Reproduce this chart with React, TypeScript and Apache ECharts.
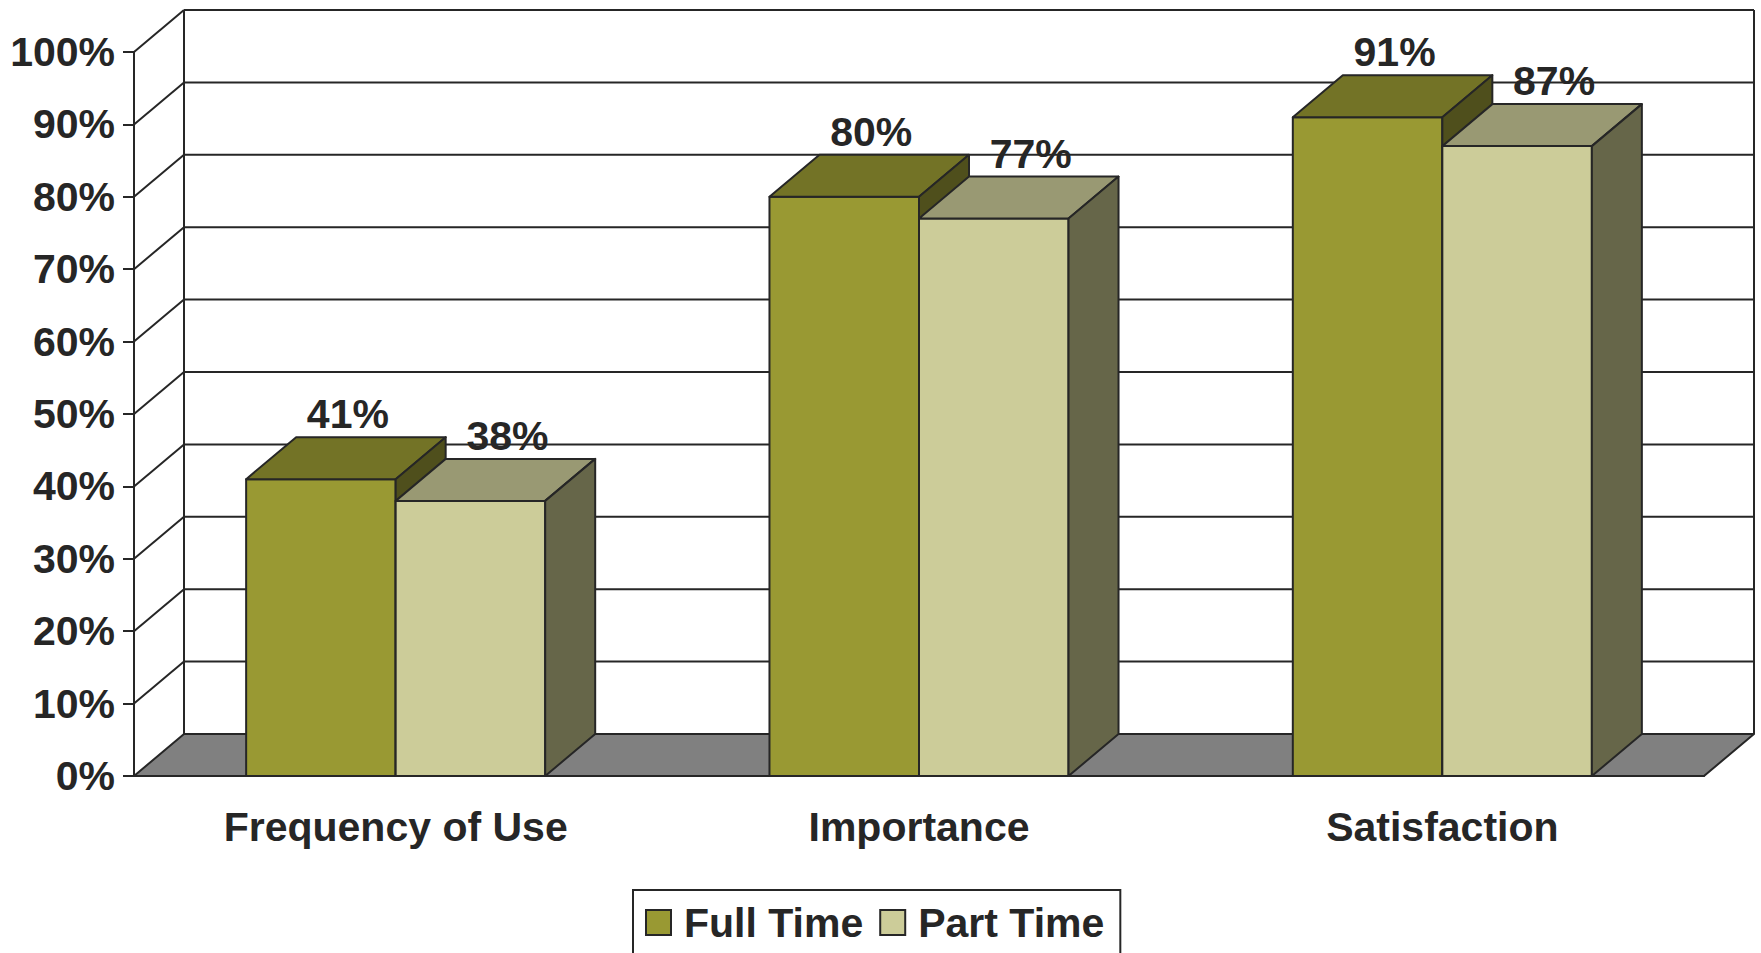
import { useEffect, useRef } from 'react';
import * as echarts from 'echarts';

// Survey results by employment type
const categories = ['Frequency of Use', 'Importance', 'Satisfaction'];
const fullTime = [41, 80, 91];
const partTime = [38, 77, 87];
const yTicks = [0, 10, 20, 30, 40, 50, 60, 70, 80, 90, 100];

// Depth offset of the pseudo-3D projection (pixels)
const DX = 50;
const DY = -42;
const LINE = '#262626';
const FONT = "'Liberation Sans', Arial, sans-serif";

const FULL_COLORS = { front: '#999933', top: '#737326', side: '#4f4f1c' };
const PART_COLORS = { front: '#cccc99', top: '#999973', side: '#666649' };

const edge = { stroke: LINE, lineWidth: 2, lineJoin: 'round' as const };

function barRenderer(side: 0 | 1, colors: { front: string; top: string; side: string }, labelShift: number) {
  return (params: any, api: any) => {
    const cat = api.value(0);
    const v = api.value(1);
    const top = api.coord([cat, v]);
    const base = api.coord([cat, 0]);
    const w = (api.size([1, 0])[0] * 2) / 7;
    const x1 = side === 0 ? top[0] - w : top[0];
    const x2 = x1 + w;
    const yT = top[1];
    const yB = base[1];
    return {
      type: 'group',
      children: [
        { type: 'rect', shape: { x: x1, y: yT, width: w, height: yB - yT }, style: { fill: colors.front, ...edge } },
        {
          type: 'polygon',
          shape: { points: [[x1, yT], [x2, yT], [x2 + DX, yT + DY], [x1 + DX, yT + DY]] },
          style: { fill: colors.top, ...edge },
        },
        {
          type: 'polygon',
          shape: { points: [[x2, yT], [x2 + DX, yT + DY], [x2 + DX, yB + DY], [x2, yB]] },
          style: { fill: colors.side, ...edge },
        },
        {
          type: 'text',
          x: (x1 + x2) / 2 + labelShift,
          y: yT - 65,
          z2: 10,
          style: {
            text: v + '%',
            fill: LINE,
            fontSize: 41,
            fontWeight: 'bold',
            fontFamily: FONT,
            align: 'center',
            verticalAlign: 'middle',
          },
        },
      ],
    };
  };
}

function wallRenderer(params: any, api: any) {
  const cs = params.coordSys;
  const x0 = cs.x;
  const xr = cs.x + cs.width;
  const v = api.value(1);
  const y = api.coord([0, v])[1];
  const children: any[] = [];
  if (v === 0) {
    children.push({
      type: 'polygon',
      shape: { points: [[x0, y], [xr, y], [xr + DX, y + DY], [x0 + DX, y + DY]] },
      style: { fill: '#808080', ...edge },
    });
  } else {
    children.push({ type: 'line', shape: { x1: x0, y1: y, x2: x0 + DX, y2: y + DY }, style: edge });
    children.push({ type: 'line', shape: { x1: x0 + DX, y1: y + DY, x2: xr + DX, y2: y + DY }, style: edge });
  }
  if (params.dataIndex === yTicks.length - 1) {
    const y0 = api.coord([0, yTicks[0]])[1];
    const y1 = api.coord([0, yTicks[yTicks.length - 1]])[1];
    children.push({ type: 'line', shape: { x1: x0 + DX, y1: y0 + DY, x2: x0 + DX, y2: y1 + DY }, style: edge });
    children.push({ type: 'line', shape: { x1: xr + DX, y1: y0 + DY, x2: xr + DX, y2: y1 + DY }, style: edge });
  }
  return { type: 'group', children };
}

export default function App() {
  const ref = useRef<HTMLDivElement>(null);

  useEffect(() => {
    document.body.style.margin = '0';
    const chart = echarts.init(ref.current!, null, { renderer: 'svg' });
    const textStyle = { color: LINE, fontSize: 41, fontWeight: 'bold' as const, fontFamily: FONT };
    chart.setOption({
      animation: false,
      backgroundColor: '#ffffff',
      grid: { left: 134, right: 57, top: 52, bottom: 177 },
      xAxis: {
        type: 'category',
        data: categories,
        axisLine: { lineStyle: { color: LINE, width: 2 } },
        axisTick: { length: 12, lineStyle: { color: LINE, width: 2 } },
        axisLabel: { ...textStyle, margin: 30 },
        splitLine: { show: false },
      },
      yAxis: {
        type: 'value',
        min: 0,
        max: 100,
        interval: 10,
        axisLine: { show: true, lineStyle: { color: LINE, width: 2 } },
        axisTick: { show: true, length: 11, lineStyle: { color: LINE, width: 2 } },
        axisLabel: { ...textStyle, margin: 19, formatter: '{value}%' },
        splitLine: { show: false },
      },
      legend: {
        data: ['Full Time', 'Part Time'],
        left: 633,
        top: 890,
        orient: 'horizontal',
        icon: 'rect',
        itemWidth: 25,
        itemHeight: 25,
        itemGap: 16,
        padding: [12, 16, 12, 12],
        borderColor: LINE,
        borderWidth: 2,
        itemStyle: { borderColor: LINE, borderWidth: 2 },
        textStyle: { ...textStyle, padding: [0, 0, 0, 8] },
      },
      series: [
        {
          type: 'custom',
          name: 'wall',
          silent: true,
          renderItem: wallRenderer,
          data: yTicks.map((v) => [0, v]),
          z: 1,
        },
        {
          type: 'custom',
          name: 'Full Time',
          renderItem: barRenderer(0, FULL_COLORS, 27),
          itemStyle: { color: FULL_COLORS.front },
          data: fullTime.map((v, i) => [i, v]),
          z: 2,
        },
        {
          type: 'custom',
          name: 'Part Time',
          renderItem: barRenderer(1, PART_COLORS, 37),
          itemStyle: { color: PART_COLORS.front },
          data: partTime.map((v, i) => [i, v]),
          z: 3,
        },
      ],
    });
    return () => chart.dispose();
  }, []);

  return <div ref={ref} style={{ width: 1761, height: 953 }} />;
}
